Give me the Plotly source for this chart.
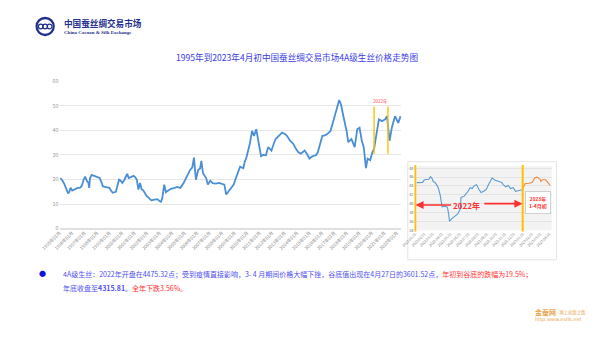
import plotly.graph_objects as go

W, H = 600, 337
def px(x): return x / W
def py(y): return (H - y) / H

# ---------------- main series (observation index, price in 1000 points) -------------
obs = [7, 30, 50, 70, 87, 100, 113, 130, 160, 180, 213, 230, 247, 263, 280, 297, 305, 313, 330, 360,
       390, 413, 430, 447, 480, 513, 530, 547, 580, 595, 613, 630, 647, 670, 697, 713, 740, 763, 780, 797,
       813, 830, 847, 863, 880, 897, 920, 947, 980, 1010, 1030, 1047, 1060, 1080, 1097, 1130, 1147, 1180, 1213, 1247,
       1280, 1313, 1347, 1370, 1387, 1407, 1430, 1450, 1463, 1480, 1513, 1530, 1555, 1580, 1610, 1647, 1680, 1700, 1720, 1750,
       1763, 1797, 1810, 1830, 1863, 1897, 1910, 1930, 1947, 1963, 1987, 2007, 2030, 2053, 2080, 2100, 2130, 2153, 2187, 2210,
       2230, 2263, 2297, 2330, 2347, 2380, 2413, 2440, 2463, 2490, 2530, 2560, 2580, 2610, 2647, 2665, 2680, 2713, 2740, 2763,
       2797, 2810, 2830, 2863, 2887, 2907, 2930, 2947, 2963, 2980, 3013, 3047, 3073, 3097, 3120, 3140, 3163, 3180, 3207, 3230,
       3247, 3263, 3280, 3297, 3330, 3360, 3380, 3395, 3407, 3430, 3463, 3497, 3520]
price = [20.6, 19.5, 18.0, 16.0, 14.3, 15.0, 16.6, 15.5, 16.0, 16.5, 16.7, 17.5, 19.9, 21.2, 19.5, 18.6, 16.6, 20.5, 21.9, 21.5,
         21.0, 20.6, 19.0, 17.2, 16.9, 16.6, 15.5, 14.6, 15.0, 17.0, 19.9, 19.5, 18.6, 20.0, 22.3, 20.6, 21.0, 21.5, 21.0, 19.9,
         15.9, 18.6, 16.0, 15.6, 14.5, 13.3, 12.5, 11.5, 11.8, 12.0, 11.2, 10.9, 12.5, 17.9, 14.8, 15.8, 16.2, 16.5, 17.0, 16.6,
         18.6, 21.2, 23.9, 25.0, 28.9, 19.9, 23.9, 24.5, 27.6, 22.6, 20.6, 17.9, 19.5, 18.5, 18.3, 18.6, 18.2, 17.9, 13.9, 15.5,
         16.6, 17.9, 19.5, 21.9, 25.2, 24.6, 27.0, 29.2, 31.5, 34.5, 39.8, 37.8, 40.5, 35.8, 29.5, 30.0, 29.9, 33.2, 31.8, 34.5,
         36.5, 37.8, 39.1, 38.5, 37.8, 35.8, 34.5, 32.5, 31.2, 30.5, 31.8, 30.0, 28.5, 29.5, 29.9, 31.0, 33.2, 37.8, 38.0, 38.5,
         39.8, 41.5, 43.8, 49.1, 52.4, 50.4, 45.8, 43.0, 39.8, 35.2, 36.5, 33.2, 40.5, 41.1, 35.8, 33.2, 24.6, 28.5, 27.9, 31.2,
         32.5, 36.5, 40.0, 44.5, 43.8, 44.5, 45.8, 40.0, 35.8, 41.1, 45.8, 43.1, 45.8]
tick_obs = [i * 129 for i in range(28)]
tick_labels = [f"{1995 + i}年01月" for i in range(28)]
mark_2022_obs = [3247, 3390]
mark_low, mark_high = 30.5, 49.8

# ---------------- inset series -------------
dates_2022 = ["2022-01-06", "2022-01-12", "2022-01-26", "2022-02-01", "2022-02-16", "2022-02-22", "2022-02-27",
              "2022-03-03", "2022-03-09", "2022-03-14", "2022-03-20", "2022-03-26", "2022-03-29", "2022-04-02",
              "2022-04-11", "2022-04-20", "2022-04-24", "2022-04-27", "2022-05-05", "2022-05-14", "2022-05-25",
              "2022-06-03", "2022-06-05", "2022-06-16", "2022-06-22", "2022-06-29", "2022-07-06", "2022-07-13",
              "2022-07-19", "2022-07-28", "2022-08-05", "2022-08-12", "2022-08-21", "2022-08-30", "2022-09-04",
              "2022-09-13", "2022-09-18", "2022-09-29", "2022-10-10", "2022-10-21", "2022-10-26", "2022-11-04",
              "2022-11-12", "2022-11-20", "2022-11-29", "2022-12-07", "2022-12-15", "2022-12-26", "2022-12-30"]
price_2022 = [44.75, 44.8, 44.8, 45.4, 45.5, 46.1, 45.7,
              45.0, 44.8, 44.3, 43.6, 42.1, 40.3, 39.3,
              39.4, 39.2, 37.7, 36.02, 36.6, 37.2, 37.7,
              38.8, 41.4, 41.7, 42.1, 42.8, 43.6, 43.4,
              44.0, 44.3, 43.2, 42.5, 42.8, 43.2, 44.0,
              45.3, 45.8, 45.3, 45.0, 44.8, 44.3, 43.8,
              44.1, 43.4, 43.6, 42.8, 42.9, 43.0, 43.16]
dates_2023 = ["2022-12-30", "2023-01-08", "2023-01-21", "2023-02-01", "2023-02-10", "2023-02-17", "2023-02-28",
              "2023-03-03", "2023-03-08", "2023-03-19", "2023-03-26", "2023-04-03"]
price_2023 = [43.16, 44.5, 44.6, 44.8, 45.8, 46.0, 45.5, 45.0, 45.4, 45.4, 44.8, 44.1]

BLUE = "#4A8FD6"
GOLD = "#FFC000"
RED = "#FF2F2F"
TXT_BLUE = "#3B3BE6"
NAVY = "#1F2F8F"
FONT = "Noto Sans CJK SC"

fig = go.Figure()
fig.add_trace(go.Scatter(x=obs, y=price, mode="lines", line=dict(color=BLUE, width=1.8),
                         xaxis="x", yaxis="y", showlegend=False, hoverinfo="skip"))
for m in mark_2022_obs:
    fig.add_trace(go.Scatter(x=[m, m], y=[mark_low, mark_high], mode="lines",
                             line=dict(color=GOLD, width=1.4), xaxis="x", yaxis="y",
                             showlegend=False, hoverinfo="skip"))

fig.add_trace(go.Scatter(x=dates_2022, y=price_2022, mode="lines", line=dict(color="#5B9BD5", width=1.1),
                         xaxis="x2", yaxis="y2", showlegend=False, hoverinfo="skip"))
fig.add_trace(go.Scatter(x=dates_2023, y=price_2023, mode="lines", line=dict(color="#ED8A3D", width=1.1),
                         xaxis="x2", yaxis="y2", showlegend=False, hoverinfo="skip"))

shapes = [
    dict(type="rect", xref="paper", yref="paper", x0=px(401.5), x1=px(555), y0=py(262), y1=py(161.5),
         line=dict(color="#E4E4E4", width=1), fillcolor="white", layer="below"),
    dict(type="line", xref="x2", yref="paper", x0="2022-01-01", x1="2022-01-01", y0=py(233), y1=py(165),
         line=dict(color=GOLD, width=2)),
    dict(type="line", xref="x2", yref="paper", x0="2022-12-31", x1="2022-12-31", y0=py(233), y1=py(165),
         line=dict(color=GOLD, width=2)),
    dict(type="circle", xref="paper", yref="paper", x0=px(17), x1=px(37), y0=py(33), y1=py(13),
         fillcolor=NAVY, line=dict(width=0)),
    dict(type="circle", xref="paper", yref="paper", x0=px(19.3), x1=px(34.7), y0=py(30.5), y1=py(15.5),
         fillcolor="white", line=dict(width=0)),
]
for cx in (22.4, 27, 31.6):
    shapes.append(dict(type="circle", xref="paper", yref="paper", x0=px(cx - 2.4), x1=px(cx + 2.4),
                       y0=py(25.4), y1=py(20.6), line=dict(color=NAVY, width=1.2)))

def A(**kw):
    kw.setdefault("showarrow", False)
    kw.setdefault("yanchor", "middle")
    return kw

ann = [
    A(text="1995年到2023年4月初中国蚕丝绸交易市场4A级生丝价格走势图", x=px(287), y=py(54), xanchor="center",
      xref="paper", yref="paper", font=dict(size=8.6, color=TXT_BLUE, family=FONT)),
    A(text="2022年", x=3318, y=51.8, xref="x", yref="y", xanchor="center",
      font=dict(size=4.5, color="#FF4D4D", family=FONT)),
    A(text="<b>中国蚕丝绸交易市场</b>", x=px(44), y=py(19.5), xref="paper", yref="paper", xanchor="left",
      font=dict(size=8.6, color=NAVY, family=FONT)),
    A(text="<b>China Cocoon & Silk Exchange</b>", x=px(44.5), y=py(29.5), xref="paper", yref="paper",
      xanchor="left", font=dict(size=5, color=NAVY, family="Liberation Serif")),
    dict(x="2022-01-02", y=39.7, ax="2022-05-07", ay=39.7, xref="x2", yref="y2", axref="x2", ayref="y2",
         text="", showarrow=True, arrowhead=2, arrowsize=1, arrowwidth=1.6, arrowcolor=RED),
    dict(x="2022-12-30", y=40.0, ax="2022-08-18", ay=40.0, xref="x2", yref="y2", axref="x2", ayref="y2",
         text="", showarrow=True, arrowhead=2, arrowsize=1, arrowwidth=1.6, arrowcolor=RED),
    A(text="<b>2022年</b>", x="2022-06-22", y=39.6, xref="x2", yref="y2", xanchor="center",
      font=dict(size=8, color=RED, family=FONT)),
    A(text="<b>2023年<br>1-4月初</b>", x=px(535.5), y=py(203.5), xref="paper", yref="paper", xanchor="center",
      font=dict(size=5, color=RED, family=FONT), bgcolor="white", bordercolor="#D0D0D0", borderwidth=1,
      borderpad=3),
    A(text="●", x=px(24.5), y=py(276), xref="paper", yref="paper", xanchor="center",
      font=dict(size=7, color="#1010E0", family=FONT)),
    A(text=("4A级生丝：2022年开盘在4475.32点；受到疫情直接影响，3- 4 月期间价格大幅下挫，谷底值出现在4月27日的3601.52点，"
            "<span style='color:#FF3333'>年初到谷底的跌幅为19.5%；</span>"),
      x=px(43), y=py(276.5), xref="paper", yref="paper", xanchor="left",
      font=dict(size=7, color="#5050F0", family=FONT)),
    A(text=("年底收盘至<b>4315.81</b>。<span style='color:#FF3333'>全年下跌3.56%。</span>"),
      x=px(43), y=py(290.5), xref="paper", yref="paper", xanchor="left",
      font=dict(size=7, color="#5050F0", family=FONT)),
    A(text="<b>金蚕网</b>", x=px(531), y=py(316), xref="paper", yref="paper", xanchor="left",
      font=dict(size=7, color="#EBA552", family=FONT)),
    A(text="- 网上丝绸之路", x=px(554), y=py(316.5), xref="paper", yref="paper", xanchor="left",
      font=dict(size=4.3, color="#EBA552", family=FONT)),
    A(text="http:www.esilk.net", x=px(531), y=py(323.5), xref="paper", yref="paper", xanchor="left",
      font=dict(size=5, color="#EBA552", family="DejaVu Sans")),
]

fig.update_layout(
    width=W, height=H, margin=dict(l=0, r=0, t=0, b=0),
    paper_bgcolor="white", plot_bgcolor="white",
    font=dict(family=FONT),
    xaxis=dict(domain=[px(42), px(395)], range=[0, 3530], tickvals=tick_obs, ticktext=tick_labels,
               tickangle=-45, tickfont=dict(size=4.5, color="#888888"), showgrid=False, zeroline=False,
               showline=False, ticks=""),
    yaxis=dict(domain=[py(230), py(79.3)], range=[0, 60], dtick=10, showgrid=True, gridcolor="#E6E6E6",
               gridwidth=1, zeroline=True, zerolinecolor="#E0E0E0", tickfont=dict(size=5.5, color="#9A9A9A"),
               showline=False, ticks=""),
    xaxis2=dict(domain=[px(408.3), px(550)], anchor="y2", type="date", range=["2021-12-29", "2023-04-08"],
                tick0="2022-01-01", dtick="M1", tickformat="%Y.%m.%d", tickangle=-45,
                tickfont=dict(size=3.6, color="#777777"), showgrid=False, zeroline=False, ticks=""),
    yaxis2=dict(domain=[py(231.7), py(166)], anchor="x2", range=[34, 48.5], dtick=2, showgrid=True,
                gridcolor="#E4E4E4", tickfont=dict(size=3.8, color="#666666"), zeroline=False, ticks=""),
    shapes=shapes, annotations=ann,
)
fig.add_shape(type="rect", xref="x2 domain", yref="y2 domain", x0=0, x1=1, y0=0, y1=1,
              fillcolor="#F3F3F3", line=dict(width=0), layer="below")

fig.write_html("out.html")
